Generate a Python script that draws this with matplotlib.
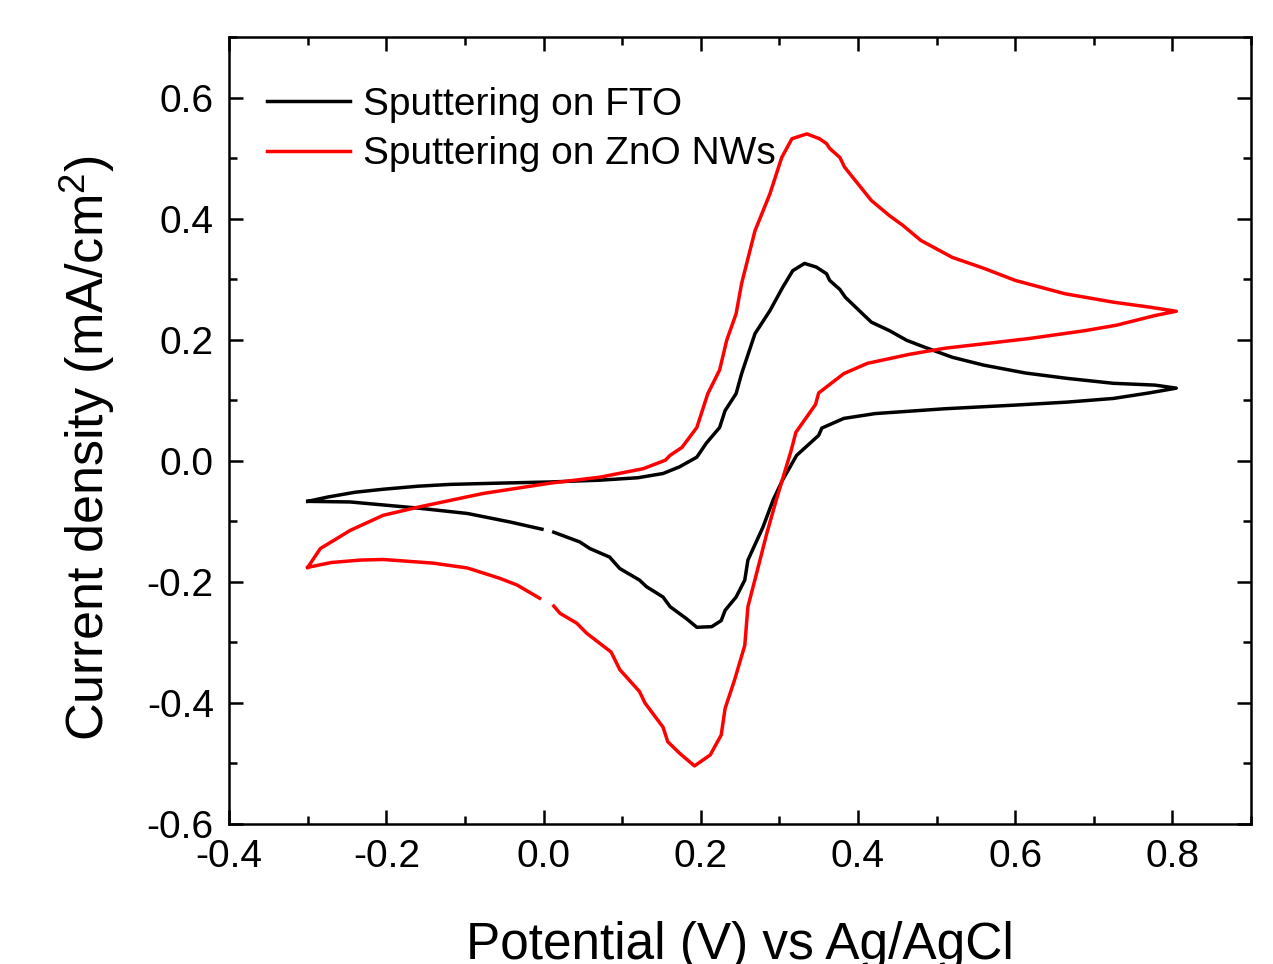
import numpy as np
import matplotlib
matplotlib.use("Agg")
import matplotlib.pyplot as plt
from matplotlib.ticker import MultipleLocator

plt.rcParams['font.family'] = ['Liberation Sans', 'DejaVu Sans']
plt.rcParams['mathtext.default'] = 'regular'

# Sputtering on FTO: forward (anodic) sweep, then reverse sweep (nan = gap in the record)
fto_fwd_v = [-0.300, -0.275, -0.240, -0.204, -0.160, -0.119, -0.060, 0.008, 0.072, 0.120, 0.152, 0.173,
             0.195, 0.207, 0.224, 0.231, 0.245, 0.252, 0.269, 0.288, 0.304, 0.317, 0.332, 0.347,
             0.360, 0.364, 0.377, 0.384, 0.417, 0.440, 0.462, 0.484, 0.520, 0.560, 0.613, 0.667,
             0.725, 0.778, 0.805]
fto_fwd_i = [-0.067, -0.060, -0.052, -0.047, -0.042, -0.039, -0.037, -0.035, -0.032, -0.028, -0.021, -0.010,
             0.006, 0.029, 0.055, 0.083, 0.111, 0.144, 0.210, 0.248, 0.286, 0.314, 0.326, 0.320,
             0.309, 0.298, 0.283, 0.270, 0.229, 0.215, 0.199, 0.188, 0.171, 0.158, 0.145, 0.136,
             0.128, 0.125, 0.120]
fto_rev_v = [0.805, 0.770, 0.725, 0.667, 0.600, 0.511, 0.422, 0.382, 0.354, 0.350, 0.322, 0.304,
             0.292, 0.279, 0.260, 0.256, 0.245, 0.231, 0.226, 0.214, 0.195, 0.182, 0.161, 0.152,
             0.131, 0.122, 0.097, 0.084, 0.059, 0.046, 0.013, np.nan, -0.002, -0.043, -0.097,
             -0.161, -0.246, -0.300]
fto_rev_i = [0.120, 0.112, 0.103, 0.097, 0.092, 0.086, 0.078, 0.070, 0.054, 0.042, 0.009, -0.032,
             -0.065, -0.110, -0.164, -0.197, -0.225, -0.247, -0.264, -0.274, -0.275, -0.261, -0.241, -0.225,
             -0.208, -0.197, -0.178, -0.159, -0.145, -0.134, -0.118, np.nan, -0.113, -0.101, -0.087,
             -0.078, -0.068, -0.067]

# Sputtering on ZnO NWs
zno_fwd_v = [-0.300, -0.284, -0.246, -0.204, -0.161, -0.077, 0.008, 0.072, 0.127, 0.155, 0.161, 0.176,
             0.195, 0.209, 0.224, 0.233, 0.245, 0.252, 0.269, 0.288, 0.303, 0.316, 0.335, 0.351,
             0.360, 0.364, 0.377, 0.383, 0.417, 0.440, 0.457, 0.480, 0.520, 0.560, 0.600, 0.663,
             0.725, 0.770, 0.805]
zno_fwd_i = [-0.176, -0.145, -0.115, -0.090, -0.077, -0.054, -0.037, -0.027, -0.013, 0.001, 0.009, 0.022,
             0.055, 0.111, 0.150, 0.199, 0.243, 0.293, 0.380, 0.441, 0.501, 0.532, 0.540, 0.532,
             0.524, 0.516, 0.501, 0.485, 0.430, 0.405, 0.389, 0.364, 0.336, 0.318, 0.298, 0.276,
             0.262, 0.254, 0.247]
zno_rev_v = [0.805, 0.778, 0.729, 0.689, 0.618, 0.565, 0.511, 0.466, 0.412, 0.382, 0.368, 0.350,
             0.346, 0.321, 0.315, 0.296, 0.284, 0.271, 0.260, 0.256, 0.243, 0.231, 0.226, 0.212,
             0.192, 0.173, 0.158, 0.152, 0.129, 0.122, 0.097, 0.086, 0.072, 0.055, 0.042, 0.021,
             0.013, np.nan, -0.005, -0.034, -0.056, -0.097, -0.141, -0.204, -0.233, -0.270, -0.300]
zno_rev_i = [0.247, 0.240, 0.224, 0.215, 0.202, 0.194, 0.186, 0.176, 0.161, 0.144, 0.130, 0.112,
             0.093, 0.047, 0.017, -0.065, -0.120, -0.186, -0.241, -0.305, -0.362, -0.409, -0.453, -0.486,
             -0.504, -0.483, -0.464, -0.440, -0.400, -0.381, -0.345, -0.316, -0.302, -0.285, -0.268, -0.252,
             -0.240, np.nan, -0.227, -0.205, -0.194, -0.177, -0.169, -0.163, -0.164, -0.168, -0.176]

fig = plt.figure(figsize=(12.73, 9.64), dpi=100)
ax = fig.add_axes([0.18, 0.1452, 0.8027, 0.8164])

ax.plot(fto_fwd_v + fto_rev_v, fto_fwd_i + fto_rev_i, color='black', lw=2.5,
        label='Sputtering on FTO')
ax.plot(zno_fwd_v + zno_rev_v, zno_fwd_i + zno_rev_i, color='red', lw=2.5,
        label='Sputtering on ZnO NWs')

ax.set_xlim(-0.4, 0.9)
ax.set_ylim(-0.6, 0.7)
ax.xaxis.set_major_locator(MultipleLocator(0.2))
ax.xaxis.set_minor_locator(MultipleLocator(0.1))
ax.yaxis.set_major_locator(MultipleLocator(0.2))
ax.yaxis.set_minor_locator(MultipleLocator(0.1))
ax.xaxis.set_major_formatter(lambda v, p: f'{v:.1f}'.replace('-0.0', '0.0'))
ax.yaxis.set_major_formatter(lambda v, p: f'{v:.1f}'.replace('-0.0', '0.0'))

ax.tick_params(which='both', direction='in', top=True, right=True, width=1.8, labelsize=28, pad=11)
ax.tick_params(which='major', length=10)
ax.tick_params(which='minor', length=5.5)
for s in ax.spines.values():
    s.set_linewidth(1.8)

ax.set_xlabel('Potential (V) vs Ag/AgCl', fontsize=37)
ax.set_ylabel('Current density (mA/cm$^2$)', fontsize=37.5)
ax.xaxis.set_label_coords(0.5, -0.123)
ax.yaxis.set_label_coords(-0.11, 0.478)

ax.legend(loc='upper left', bbox_to_anchor=(0.037, 0.937), frameon=False, fontsize=28,
          handlelength=2.13, handletextpad=0.33, labelspacing=0.35, borderpad=0, borderaxespad=0)

fig.savefig('out.png', dpi=100)
